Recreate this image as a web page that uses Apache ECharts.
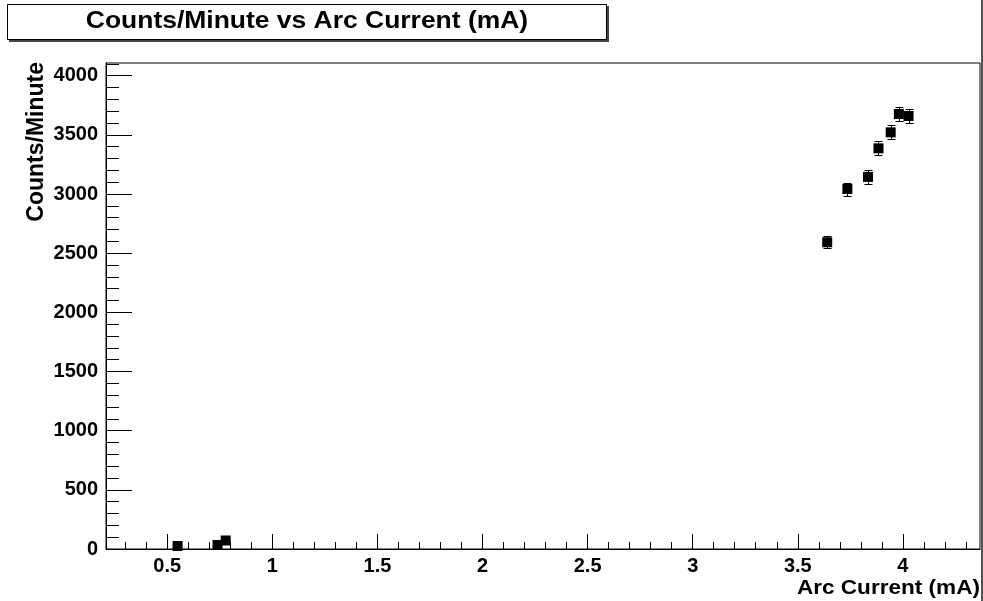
<!DOCTYPE html>
<html>
<head>
<meta charset="utf-8">
<title>Counts/Minute vs Arc Current (mA)</title>
<script src="https://cdn.jsdelivr.net/npm/echarts@6.0.0/dist/echarts.min.js"></script>
<style>
    html, body { margin: 0; padding: 0; background: #fff; }
    #chart_id { width: 983px; height: 601px; }
</style>
</head>
<body>
<div id="chart_id"></div>
<script>
// arc current (mA)
var arcCurrent = [0.549, 0.739, 0.778, 3.640, 3.736, 3.834, 3.884, 3.942, 3.981, 4.027];
// counts per minute
var countsPerMinute = [25, 34, 72, 2592, 3042, 3144, 3386, 3521, 3676, 3659];
// error on counts
var countErrors = [5, 6, 9, 51, 55, 56, 58, 59, 61, 60];

// tick labels
var xMajorTicks = [0.5, 1, 1.5, 2, 2.5, 3, 3.5, 4];
var yMajorTicks = [0, 500, 1000, 1500, 2000, 2500, 3000, 3500, 4000];

var xRange = [0.2085, 4.367];
var yRange = [0, 4107];

window.onload = function () {
    initChart();
};

function minorTicks(start, end, step) {
    var list = [];
    for (var v = start; v <= end + 1e-9; v += step) {
        list.push(Math.round(v * 1000) / 1000);
    }
    return list;
}

function initChart() {
    var myChart = echarts.init(document.getElementById("chart_id"), null, {renderer: "canvas"});
    var points = [];
    var bars = [];
    for (var i = 0, lens = arcCurrent.length; i < lens; i++) {
        points.push([arcCurrent[i], countsPerMinute[i]]);
        bars.push([arcCurrent[i], countsPerMinute[i], countErrors[i]]);
    }
    var labelFont = {
        color: "#000",
        fontFamily: "Liberation Sans",
        fontWeight: "bold",
        fontSize: 20,
        formatter: function (v) { return String(v); }
    };
    var option = {
        animation: false,
        backgroundColor: "#fff",
        grid: {
            left: 106, top: 63, width: 874, height: 486,
            show: true, borderColor: "#000", borderWidth: 1,
            backgroundColor: "transparent"
        },
        xAxis: [{
            type: "value", min: xRange[0], max: xRange[1],
            axisLine: {show: true, onZero: false, lineStyle: {color: "#000", width: 1}},
            axisTick: {show: true, inside: true, length: 15, customValues: xMajorTicks, lineStyle: {color: "#000"}},
            axisLabel: Object.assign({customValues: xMajorTicks, margin: 7}, labelFont),
            splitLine: {show: false}
        }, {
            type: "value", min: xRange[0], max: xRange[1], position: "bottom",
            axisLine: {show: false},
            axisTick: {show: true, inside: true, length: 7, customValues: minorTicks(0.3, 4.3, 0.1), lineStyle: {color: "#000"}},
            axisLabel: {show: false},
            splitLine: {show: false}
        }],
        yAxis: [{
            type: "value", min: yRange[0], max: yRange[1],
            axisLine: {show: true, onZero: false, lineStyle: {color: "#000", width: 1}},
            axisTick: {show: true, inside: true, length: 26, customValues: yMajorTicks, lineStyle: {color: "#000"}},
            axisLabel: Object.assign({customValues: yMajorTicks, margin: 8}, labelFont),
            splitLine: {show: false}
        }, {
            type: "value", min: yRange[0], max: yRange[1], position: "left",
            axisLine: {show: false},
            axisTick: {show: true, inside: true, length: 13, customValues: minorTicks(100, 4100, 100), lineStyle: {color: "#000"}},
            axisLabel: {show: false},
            splitLine: {show: false}
        }],
        graphic: [
            //canvas edge on the right
            {type: "rect", shape: {x: 981, y: 0, width: 2, height: 601}, style: {fill: "#555"}, z: 10},
            //title box with shadow
            {type: "rect", shape: {x: 9, y: 6, width: 600, height: 36}, style: {fill: "#444"}, z: 10},
            {type: "rect", shape: {x: 7.5, y: 4.5, width: 599, height: 35}, style: {fill: "#fff", stroke: "#000", lineWidth: 1}, z: 11},
            {
                type: "text", x: 307, y: 22, scaleX: 1.15, z: 12,
                style: {text: "Counts/Minute vs Arc Current (mA)", fill: "#000", font: "bold 23px 'Liberation Sans'", align: "center", verticalAlign: "middle"}
            },
            {
                type: "text", x: 37, y: 62, rotation: Math.PI / 2, z: 12,
                style: {text: "Counts/Minute", fill: "#000", font: "bold 23px 'Liberation Sans'", align: "right", verticalAlign: "middle"}
            },
            {
                type: "text", x: 980, y: 588, scaleX: 1.075, z: 12,
                style: {text: "Arc Current (mA)", fill: "#000", font: "bold 21px 'Liberation Sans'", align: "right", verticalAlign: "middle"}
            }
        ],
        series: [{
            name: "errors",
            type: "custom",
            xAxisIndex: 0, yAxisIndex: 0,
            z: 2,
            data: bars,
            renderItem: function (params, api) {
                var x = api.value(0), y = api.value(1), e = api.value(2);
                var top = api.coord([x, y + e]);
                var bottom = api.coord([x, y - e]);
                var cx = Math.round(top[0]) + 0.5;
                var t = Math.round(top[1]) + 0.5, b = Math.round(bottom[1]) + 0.5;
                var lineStyle = {stroke: "#000", lineWidth: 1};
                return {
                    type: "group",
                    children: [
                        {type: "line", shape: {x1: cx, y1: t, x2: cx, y2: b}, style: lineStyle},
                        {type: "line", shape: {x1: cx - 4, y1: t, x2: cx + 4, y2: t}, style: lineStyle},
                        {type: "line", shape: {x1: cx - 4, y1: b, x2: cx + 4, y2: b}, style: lineStyle}
                    ]
                };
            }
        }, {
            name: "Counts/Minute",
            type: "scatter",
            xAxisIndex: 0, yAxisIndex: 0,
            z: 3,
            symbol: "rect",
            symbolSize: [10, 10],
            itemStyle: {color: "#000", opacity: 1},
            data: points
        }]
    };
    myChart.setOption(option, true);
}
</script>
</body>
</html>
